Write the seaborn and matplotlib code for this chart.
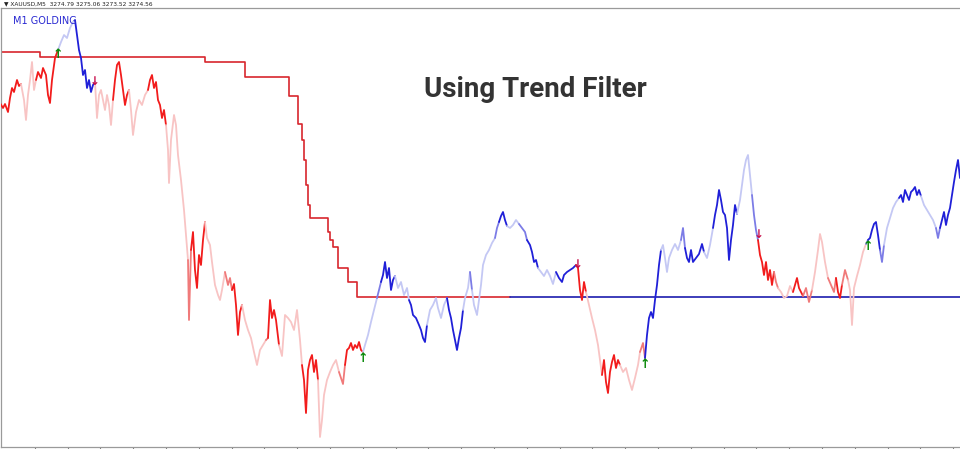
import matplotlib
matplotlib.use("Agg")
import matplotlib.pyplot as plt
import numpy as np
import pandas as pd
import seaborn as sns

# ── chart data (M5 bars, XAUUSD) ─────────────────────────────────────────
bars = [
    0, 3, 5, 8, 10, 12, 14, 17, 19, 21,
    24, 26, 28, 30, 32, 34, 36,
    38, 41, 43, 46, 48, 50, 52, 55, 58,
    61, 64, 67, 70, 73, 75,
    77, 79, 81, 83, 85, 87, 89, 91, 93, 95,
    97, 99, 101, 103, 105, 107, 109, 111, 113,
    115, 117, 119, 121, 123, 125, 127, 129,
    131, 133, 136, 139, 142, 145, 148,
    150, 152, 154, 156, 158, 160, 162, 164, 166,
    168, 169, 171, 174, 176, 178, 181, 184, 186, 188,
    189, 191,
    193, 195, 197, 199, 201, 203, 205,
    207, 210, 212, 215, 218, 220, 222, 225,
    228, 230, 232,
    234, 236, 238, 240, 242,
    245, 248, 251, 254, 257, 260, 263, 266,
    268,
    270, 272, 274, 276, 279,
    282, 285, 288, 291, 294, 297, 300, 302,
    304, 306, 308, 310, 312, 314, 316, 318,
    320, 322, 324, 327, 330, 333, 336, 339,
    341, 343, 345,
    347, 349, 351, 353, 355, 357, 359, 361, 363,
    365, 368, 371, 374, 377,
    379, 381,
    383, 385, 387, 389, 391, 393, 395,
    398, 401, 404, 407, 409,
    411, 413, 416, 419, 421, 423, 425, 427,
    430, 433, 436, 438, 441, 444, 447,
    449, 451, 453, 455, 457, 459, 461, 463,
    465, 468, 470,
    472,
    474, 477, 479, 481, 483, 486, 489, 492, 495,
    497, 499,
    501, 503, 505, 507,
    510, 513, 516, 519,
    522, 525, 527,
    530, 532, 534, 536, 538,
    541, 544, 547, 550, 553, 556,
    559, 562, 564, 567, 570, 573, 576,
    578, 580, 582, 584, 586,
    589, 592, 595, 598, 600, 602,
    604, 606, 608, 610, 612, 614, 616, 618, 620,
    623, 626, 629, 632, 635, 638, 640,
    643, 645,
    647, 649, 651, 653, 655, 657, 659, 661,
    663, 665, 667, 669, 672, 675, 678, 681,
    683, 685,
    687, 689, 691, 693, 696, 699, 702, 704,
    707, 710, 713,
    715, 717, 719, 721, 723, 725, 727, 729, 731, 733, 735, 737,
    740, 742, 744, 746, 748, 750, 752,
    754, 756, 758,
    760, 762, 764, 766, 768, 770, 772, 774,
    776, 778,
    781, 784, 787, 790, 793,
    795, 797, 799, 801, 803,
    806, 809, 812,
    815, 818, 820, 822, 825, 828,
    831, 834, 836,
    838, 840, 842,
    845, 848,
    850, 852, 854, 857, 860, 863, 866,
    868,
    870, 872, 874, 876, 878, 880,
    882, 884,
    887, 890, 893, 896, 899,
    901, 903, 905, 907, 909, 911, 913, 915, 917, 919, 921,
    924, 927, 930, 933, 936,
    938, 940,
    942, 944, 946, 948, 950, 952, 954, 956, 958, 960,
]

close = [
    3289.7, 3289.2, 3289.6, 3288.8, 3290.2, 3291.2, 3290.8, 3292.0, 3291.4, 3291.6,
    3290.0, 3288.0, 3290.5, 3292.0, 3293.8, 3291.0, 3292.0,
    3292.8, 3292.2, 3293.2, 3292.5, 3290.5, 3289.7, 3292.0, 3294.2, 3295.0,
    3295.8, 3296.5, 3296.2, 3297.2, 3297.8, 3298.0,
    3296.5, 3295.0, 3294.2, 3292.5, 3293.0, 3291.2, 3292.0, 3290.8, 3291.5, 3291.8,
    3288.2, 3290.5, 3291.0, 3290.0, 3289.0, 3290.5, 3289.5, 3287.5, 3290.0,
    3292.0, 3293.5, 3293.8, 3292.5, 3291.0, 3289.5, 3290.5, 3291.0,
    3289.0, 3286.5, 3288.8, 3290.0, 3289.5, 3290.5, 3291.0,
    3292.0, 3292.5, 3291.2, 3291.8, 3290.0, 3289.5, 3288.2, 3289.0, 3287.5,
    3285.0, 3281.7, 3286.0, 3288.5, 3287.5, 3284.5, 3282.0, 3279.0, 3276.5, 3274.0,
    3268.0, 3275.0,
    3276.8, 3273.0, 3271.2, 3274.5, 3273.5, 3276.0, 3277.8,
    3276.2, 3275.5, 3273.8, 3271.5, 3270.5, 3270.0, 3271.0, 3272.8,
    3271.5, 3272.2, 3271.0,
    3271.6, 3269.5, 3266.5, 3268.8, 3269.5,
    3268.0, 3267.0, 3266.2, 3264.8, 3263.5, 3265.0, 3265.5, 3266.0,
    3266.2,
    3270.0, 3268.2, 3269.0, 3268.0, 3265.5,
    3264.4, 3268.5, 3268.2, 3267.8, 3267.0, 3269.0, 3266.0, 3263.5,
    3262.0, 3258.7, 3263.0, 3264.0, 3264.5, 3262.8, 3264.0, 3262.0,
    3256.3, 3258.0, 3260.5, 3262.0, 3262.8, 3263.5, 3264.0, 3262.8,
    3262.2, 3261.6, 3263.5,
    3265.0, 3265.2, 3265.7, 3265.0, 3265.5, 3265.2, 3265.8, 3265.0, 3264.8,
    3265.5, 3266.5, 3267.8, 3269.0, 3270.2,
    3271.0, 3271.8,
    3272.5, 3273.8, 3272.2, 3273.2, 3271.0, 3272.0, 3272.4,
    3271.2, 3271.8, 3270.5, 3271.2, 3270.0,
    3269.5, 3268.5, 3268.2, 3267.5, 3267.0, 3266.2, 3265.8, 3267.5,
    3269.0, 3269.5, 3270.2, 3269.2, 3268.2, 3269.5, 3270.2,
    3269.0, 3268.2, 3267.0, 3266.0, 3265.0, 3266.2, 3267.2, 3269.0,
    3270.2, 3271.2, 3272.8,
    3271.0,
    3269.5, 3268.5, 3270.0, 3271.5, 3273.5, 3274.5, 3275.0, 3275.7, 3276.2,
    3277.2, 3277.8,
    3278.4, 3278.8, 3278.0, 3277.4,
    3277.2, 3277.5, 3278.0, 3277.6,
    3277.2, 3276.8, 3276.0,
    3275.5, 3274.8, 3273.8, 3274.0, 3273.2,
    3272.8, 3272.4, 3273.0, 3272.4, 3271.6, 3272.8,
    3272.2, 3271.8, 3272.5, 3272.8, 3273.0, 3273.2, 3273.5,
    3273.2, 3271.0, 3270.0, 3271.8, 3270.8,
    3269.5, 3268.2, 3267.0, 3265.5, 3264.0, 3262.5,
    3264.0, 3261.8, 3260.7, 3262.8, 3263.8, 3264.5, 3263.2, 3264.0, 3263.5,
    3262.8, 3263.2, 3262.0, 3261.0, 3262.2, 3263.5, 3264.8,
    3265.7, 3264.2,
    3266.5, 3268.2, 3268.8, 3268.2, 3270.0, 3271.5, 3273.5, 3275.0,
    3275.5, 3274.2, 3272.8, 3274.2, 3275.0, 3275.6, 3275.0, 3276.0,
    3277.2, 3275.2,
    3274.2, 3273.8, 3275.0, 3273.8, 3274.2, 3274.6, 3275.6, 3274.8,
    3274.2, 3275.5, 3277.2,
    3278.5, 3279.5, 3281.0, 3280.0, 3278.8, 3278.5, 3277.2, 3274.0, 3276.0, 3277.5, 3279.5, 3278.6,
    3280.0, 3281.5, 3283.0, 3284.0, 3284.5, 3282.5, 3280.5,
    3278.5, 3277.0, 3276.0,
    3274.5, 3273.8, 3272.5, 3273.8, 3272.0, 3273.0, 3271.5, 3272.8,
    3271.8, 3271.2,
    3270.8, 3270.2, 3270.4, 3271.4, 3270.8,
    3271.5, 3272.2, 3271.2, 3270.8, 3270.4,
    3271.2, 3269.8, 3271.0,
    3272.8, 3275.0, 3276.6, 3275.8, 3273.8, 3272.2,
    3271.5, 3270.8, 3272.2,
    3270.8, 3270.2, 3271.5,
    3273.0, 3272.0,
    3271.0, 3267.5, 3271.2, 3272.4, 3273.5, 3274.8, 3275.6,
    3276.0,
    3276.2, 3277.0, 3277.6, 3277.8, 3276.5, 3275.0,
    3273.8, 3275.5,
    3277.2, 3278.2, 3279.2, 3279.8, 3280.2,
    3280.5, 3279.8, 3281.0, 3280.5, 3280.0, 3280.8, 3281.0, 3281.3, 3280.5, 3281.0, 3280.4,
    3279.5, 3279.0, 3278.5, 3278.0, 3277.2,
    3276.2, 3277.2,
    3278.0, 3278.8, 3277.5, 3278.5, 3279.2, 3280.5, 3281.8, 3283.0, 3284.0, 3282.2,
]

# bar where each colour run starts and its shade
# R/M/r = strong/medium/weak bearish, B/N/b = strong/medium/weak bullish
shade_start = [0, 21, 36, 58, 75, 95, 113, 129, 148, 166, 188, 191, 205, 225, 232,
               242, 266, 268, 279, 302, 318, 339, 345, 363, 377, 381, 395, 409, 427,
               447, 463, 470, 472, 495, 499, 507, 519, 527, 538, 556, 576, 586, 602,
               620, 640, 645, 661, 681, 685, 704, 713, 737, 752, 758, 774, 778, 793,
               803, 812, 828, 836, 842, 848, 866, 868, 880, 884, 899, 921, 936, 940]
shade_key = ["R", "r", "R", "b", "B", "r", "R", "r", "R", "r", "M", "R", "r", "M", "R",
             "r", "M", "R", "r", "R", "r", "M", "R", "b", "N", "B", "b", "B", "b",
             "B", "b", "N", "b", "N", "B", "b", "N", "B", "b", "B", "R", "r", "R",
             "r", "M", "B", "b", "N", "B", "b", "B", "b", "N", "R", "M", "r", "R",
             "M", "r", "M", "R", "M", "r", "N", "B", "N", "b", "B", "b", "N", "B"]

# trend filter level (step line)
trend_bar = [0, 40, 205, 245, 289, 298, 302, 304, 306, 308, 310, 328, 330, 333,
             338, 348, 357, 960]
trend_level = [3294.8, 3294.3, 3293.8, 3292.3, 3290.4, 3287.6, 3286.0, 3284.0,
               3281.5, 3279.5, 3278.2, 3276.8, 3276.0, 3275.3, 3273.2, 3271.8,
               3270.3, 3270.3]
trend_flip_bar = 510

# signals
buy_bar = [58, 363, 645, 868]
buy_price = [3295.2, 3264.8, 3264.2, 3276.0]
sell_bar = [95, 578, 759]
sell_price = [3291.8, 3273.5, 3276.6]

SHADES = {"R": "#f21c1c", "M": "#f07a7a", "r": "#f8c4c4",
          "B": "#2020d8", "N": "#7c7ce6", "b": "#c4c8f4"}

# ── build run table ──────────────────────────────────────────────────────
rows = []
bounds = shade_start + [bars[-1]]
for i, key in enumerate(shade_key):
    lo, hi = bounds[i], bounds[i + 1]
    for b, p in zip(bars, close):
        if lo <= b <= hi:
            rows.append({"bar": b, "price": p, "run": i})
runs = pd.DataFrame(rows)
palette = {i: SHADES[k] for i, k in enumerate(shade_key)}

tr = pd.DataFrame({"bar": trend_bar, "level": trend_level})
tr_red = tr[tr.bar <= trend_flip_bar].copy()
tr_red = pd.concat([tr_red, pd.DataFrame({"bar": [trend_flip_bar],
                                          "level": [trend_level[-1]]})])
tr_blue = pd.DataFrame({"bar": [trend_flip_bar, trend_bar[-1]],
                        "level": [trend_level[-1], trend_level[-1]]})

# ── plot ─────────────────────────────────────────────────────────────────
sns.set_style("white")
fig = plt.figure(figsize=(9.6, 4.49), dpi=100)
ax = fig.add_axes([1 / 960, 2 / 449, 959 / 960, 439 / 449])

sns.lineplot(data=tr_red, x="bar", y="level", color="#d8262e", lw=1.2,
             drawstyle="steps-post", ax=ax, zorder=2)
sns.lineplot(data=tr_blue, x="bar", y="level", color="#1c1cae", lw=1.2,
             ax=ax, zorder=2)
sns.lineplot(data=runs, x="bar", y="price", hue="run", palette=palette,
             estimator=None, sort=False, legend=False, lw=1.3, ax=ax, zorder=3)

for b, p in zip(buy_bar, buy_price):
    ax.text(b, p, "\u2191", color="#0a8a0a", fontsize=9, fontweight="bold",
            ha="center", va="top", zorder=5)
for b, p in zip(sell_bar, sell_price):
    ax.text(b, p, "\u2193", color="#c8104c", fontsize=8.5, fontweight="bold",
            ha="center", va="center", zorder=5)

ax.set_xlim(1, 960)
ax.set_ylim(3255.3, 3299.2)
ax.set_xlabel(""); ax.set_ylabel("")
ax.set_yticks([])
ax.set_xticks(np.arange(34.8, 960, 32.8))
ax.set_xticklabels([])
ax.tick_params(axis="x", direction="out", length=3, width=0.8, color="#808080",
               bottom=True)
for side in ["left", "bottom", "top"]:
    ax.spines[side].set_color("#9a9a9a")
    ax.spines[side].set_linewidth(0.9)
ax.spines["right"].set_visible(False)

fig.text(4 / 960, 1 - 4 / 449, "\u25bc XAUUSD,M5  3274.79 3275.06 3273.52 3274.56",
         fontsize=4.2, color="#222222", ha="left", va="center")
ax.text(13, 3297.9, "M1 GOLDING", color="#2a2ad2", fontsize=7,
        family="DejaVu Sans", ha="left", va="center")
ax.text(535, 3291.0, "Using Trend Filter", color="#333333", fontsize=20,
        family="Roboto", fontweight="bold", ha="center", va="center")

fig.savefig("out.png", dpi=100)
plt.close(fig)
